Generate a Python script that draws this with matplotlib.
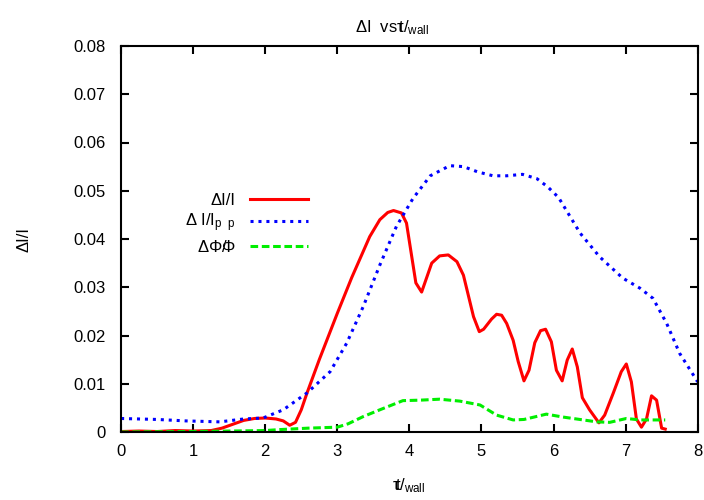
import matplotlib
matplotlib.use("Agg")
import matplotlib.pyplot as plt
from matplotlib.ticker import FuncFormatter

plt.rcParams["font.family"] = ["Liberation Sans", "DejaVu Sans"]
plt.rcParams["mathtext.fontset"] = "custom"
plt.rcParams["mathtext.rm"] = "Liberation Sans"
plt.rcParams["mathtext.it"] = "Liberation Sans"
plt.rcParams["font.size"] = 12

# dI/I
red_t = [0, 0.25, 0.5, 0.75, 1.0, 1.25, 1.4, 1.55, 1.7, 1.85, 2.0, 2.15, 2.25, 2.34,
         2.42, 2.5, 2.58, 2.75, 3.0, 3.2, 3.45, 3.59, 3.7, 3.78, 3.89, 3.96, 4.09, 4.17,
         4.31, 4.42, 4.54, 4.66, 4.75, 4.89, 4.97, 5.03, 5.14, 5.21, 5.28, 5.35, 5.44,
         5.51, 5.59, 5.66, 5.74, 5.82, 5.89, 5.97, 6.04, 6.12, 6.19, 6.26, 6.33, 6.40,
         6.50, 6.63, 6.71, 6.83, 6.94, 7.01, 7.08, 7.15, 7.22, 7.29, 7.36, 7.43, 7.50, 7.55]
red_dI = [0.0001, 0.0002, 0.0001, 0.0003, 0.0002, 0.0003, 0.0008, 0.0016, 0.0024, 0.0028,
          0.0029, 0.0027, 0.0023, 0.0014, 0.002, 0.0046, 0.0081, 0.015, 0.0246, 0.032,
          0.0405, 0.044, 0.0455, 0.0459, 0.0454, 0.0433, 0.0309, 0.029, 0.035, 0.0365,
          0.0367, 0.0353, 0.0325, 0.0239, 0.0208, 0.0213, 0.0234, 0.0244, 0.0242, 0.0225,
          0.019, 0.0146, 0.0106, 0.0128, 0.0185, 0.021, 0.0213, 0.0187, 0.0128, 0.0106,
          0.0149, 0.0172, 0.0135, 0.0071, 0.0046, 0.0019, 0.0035, 0.0081, 0.0125, 0.0141,
          0.0104, 0.0027, 0.001, 0.0027, 0.0075, 0.0066, 0.0008, 0.0006]

# dIp/Ip
blue_t = [0, 0.5, 0.9, 1.37, 1.7, 1.97, 2.25, 2.58, 2.9, 3.13, 3.36, 3.59, 3.82, 4.05,
          4.29, 4.56, 4.75, 4.95, 5.16, 5.35, 5.57, 5.77, 5.92, 6.07, 6.37, 6.64, 6.96,
          7.2, 7.38, 7.57, 7.75, 8.0]
blue_dIp = [0.0028, 0.0026, 0.0023, 0.0021, 0.0027, 0.0029, 0.0046, 0.0081, 0.0125,
            0.0184, 0.026, 0.0346, 0.0426, 0.0484, 0.0531, 0.0552, 0.055, 0.0539, 0.0531,
            0.0531, 0.0534, 0.0525, 0.0508, 0.0486, 0.0412, 0.0363, 0.0319, 0.0298,
            0.0277, 0.0225, 0.0163, 0.0104]

# dPhi/Phi
green_t = [0, 1.0, 2.0, 2.2, 2.6, 3.0, 3.15, 3.36, 3.59, 3.91, 4.15, 4.42, 4.7, 4.98,
           5.21, 5.44, 5.59, 5.9, 6.13, 6.6, 6.78, 7.01, 7.2, 7.55]
green_dPhi = [0.0, 0.0001, 0.0003, 0.0005, 0.0008, 0.001, 0.0017, 0.0032, 0.0046,
              0.0065, 0.0066, 0.0068, 0.0064, 0.0056, 0.0035, 0.0025, 0.0026, 0.0037,
              0.0031, 0.0021, 0.002, 0.0028, 0.0025, 0.0025]

x_ticks = [0, 1, 2, 3, 4, 5, 6, 7, 8]
y_ticks = [0, 0.01, 0.02, 0.03, 0.04, 0.05, 0.06, 0.07, 0.08]

fig = plt.figure(figsize=(7.04, 5), dpi=100)
ax = fig.add_axes([0.172, 0.136, 0.819, 0.772])

ax.plot(red_t, red_dI, color="#ff0000", lw=2.2, label=r"ΔI/I")
ax.plot(blue_t, blue_dIp, color="#0000ff", lw=2.2, linestyle=(0, (1, 1.6)),
        dash_capstyle="butt", label=r"Δ I/I$_{\mathrm{p\ \ p}}$")
ax.plot(green_t, green_dPhi, color="#00ee00", lw=2.2, linestyle=(0, (2.5, 1.2)),
        dash_capstyle="butt", label=r"ΔΦ/$\!\!$Φ")

ax.set_xlim(0, 8)
ax.set_ylim(0, 0.08)
ax.set_xticks(x_ticks)
ax.set_yticks(y_ticks)
ax.yaxis.set_major_formatter(FuncFormatter(lambda v, _: "0" if v == 0 else f"{v:.2f}"))
ax.tick_params(direction="in", length=6, width=1.5, top=True, right=True,
               labelsize=12)
ax.tick_params(axis="y", pad=11)
ax.tick_params(axis="x", pad=9)
for spine in ax.spines.values():
    spine.set_linewidth(1.5)

# gnuplot-style overlapped glyphs in the axis titles
ax.set_title(r"ΔI  vs$\tau\!\!\mathrm{t}$/$_{\mathrm{wall}}$", fontsize=12,
             pad=10, x=0.47)
ax.set_xlabel(r"t$\!\!\!\tau$/$_{\mathrm{wall}}$", fontsize=12, labelpad=12)
ax.set_ylabel("ΔI/I", fontsize=12, labelpad=30)

ax.legend(loc="upper right", bbox_to_anchor=(0.324, 0.62), frameon=False,
          markerfirst=False, handlelength=3.5, handletextpad=0.85,
          labelspacing=0.25, borderpad=0, borderaxespad=0, fontsize=12)

fig.savefig("out.png", dpi=100)
